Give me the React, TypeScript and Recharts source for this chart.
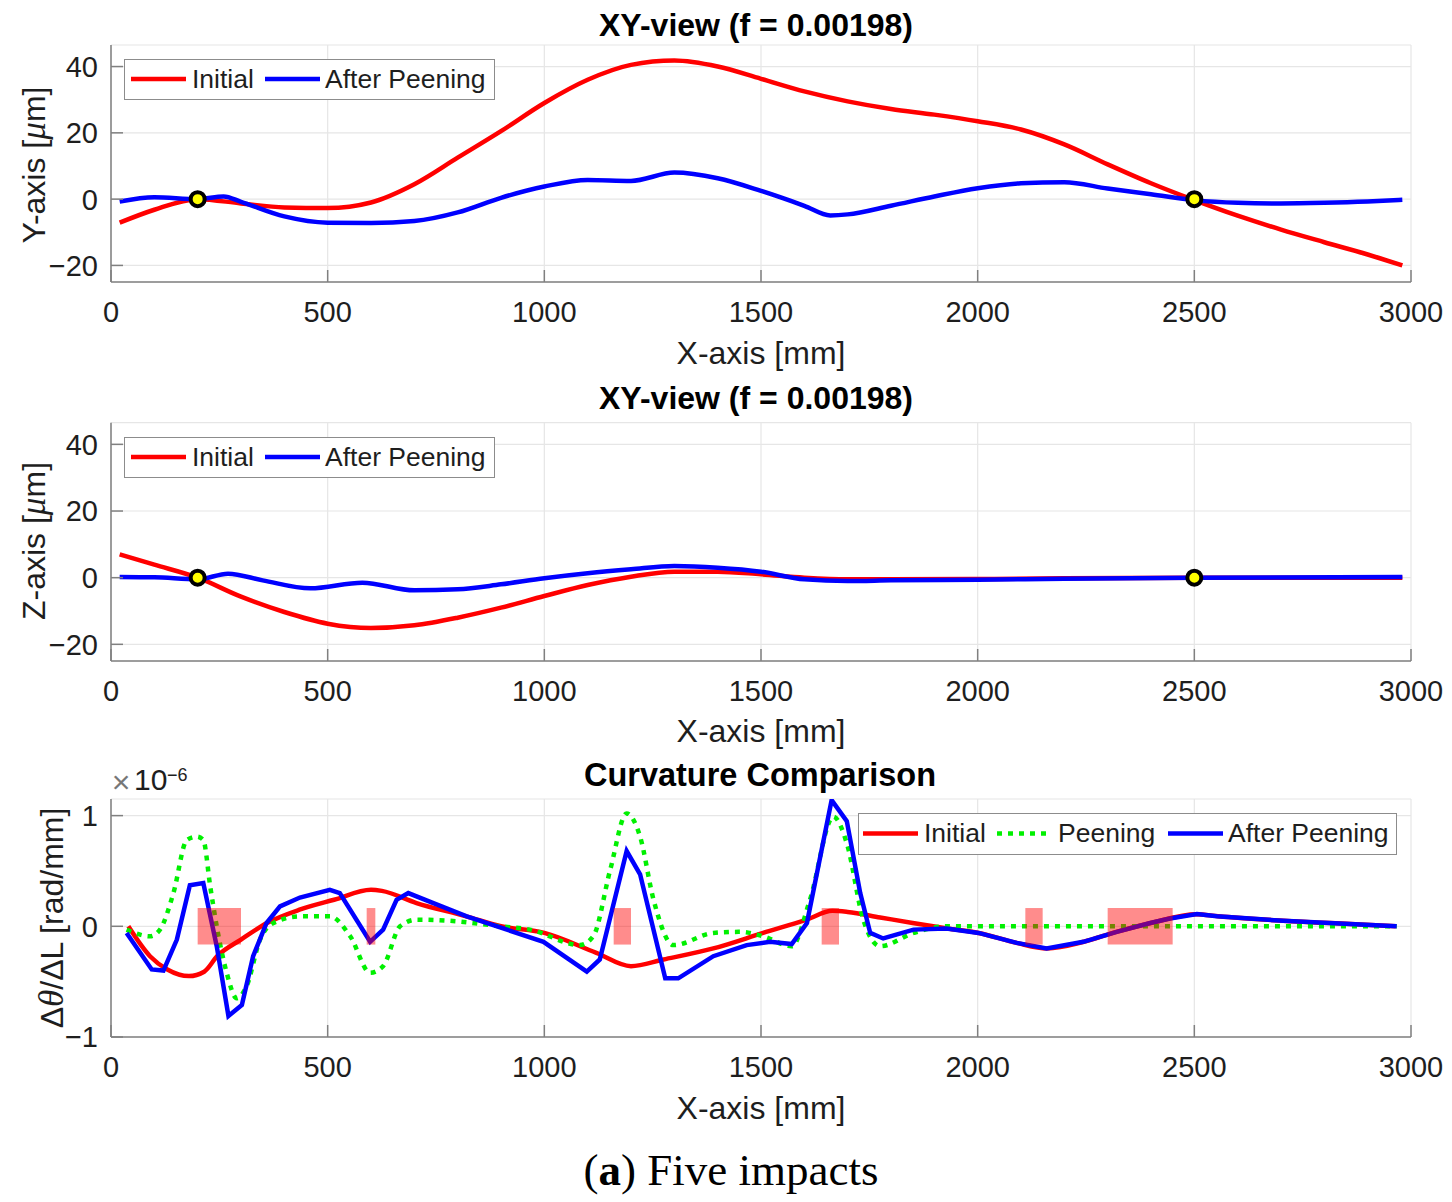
import React from 'react';
import { LineChart, Line, XAxis, YAxis, CartesianGrid, ReferenceArea } from 'recharts';

// ---- data ----
const xTicks = [0, 500, 1000, 1500, 2000, 2500, 3000];
const profileTicks = [-20, 0, 20, 40];
const curvTicks = [-1, 0, 1];
const profileSeries = ['Initial', 'After Peening'];
const curvSeries = ['Initial', 'Peening', 'After Peening'];

// fixed points (mm, um)
const anchorPoints = [
  [200, 0],
  [2500, 0],
];

// XY view [x mm, y um]
const xyInitial = [
  [20, -7.1], [100, -3.2], [200, 0], [300, -1.3], [400, -2.5], [500, -2.7], [600, -1.0],
  [700, 4.5], [800, 12.5], [900, 20.5], [1000, 29], [1100, 36], [1200, 40.5], [1300, 41.8],
  [1400, 40], [1500, 36.3], [1600, 32.5], [1700, 29.5], [1800, 27.2], [1900, 25.5],
  [2000, 23.5], [2100, 21], [2200, 16.5], [2300, 10.5], [2400, 4.8], [2500, -0.3],
  [2600, -5], [2700, -9.2], [2800, -13], [2900, -16.7], [2980, -20],
];
const xyAfter = [
  [20, -0.7], [100, 0.6], [200, 0], [260, 0.8], [300, -0.8], [400, -5.2], [500, -7.1],
  [600, -7.2], [700, -6.6], [800, -4.0], [900, 0.4], [1000, 3.8], [1100, 5.8], [1200, 5.5],
  [1300, 8], [1400, 6.3], [1500, 2.5], [1600, -2], [1660, -4.9], [1700, -4.6], [1800, -2],
  [1900, 0.8], [2000, 3.3], [2100, 4.8], [2200, 5.1], [2300, 3.2], [2400, 1.5], [2500, -0.3],
  [2600, -1.1], [2700, -1.3], [2800, -1.1], [2900, -0.7], [2980, -0.2],
];

// XZ view [x mm, z um]
const xzInitial = [
  [20, 7], [100, 3.9], [200, 0], [300, -5.7], [400, -10.3], [500, -13.8], [600, -15.1],
  [700, -14.3], [800, -12], [900, -9], [1000, -5.5], [1100, -2.2], [1200, 0.3], [1300, 1.8],
  [1400, 1.8], [1500, 1], [1600, 0], [1700, -0.5], [1800, -0.5], [2000, -0.4], [2200, -0.2],
  [2500, 0], [2980, 0],
];
const xzAfter = [
  [20, 0.2], [100, 0.1], [200, -0.5], [270, 1.2], [350, -0.8], [460, -3.2], [580, -1.5],
  [700, -3.8], [800, -3.5], [900, -2], [1000, -0.2], [1100, 1.3], [1200, 2.5], [1300, 3.5],
  [1400, 3], [1500, 1.8], [1600, -0.5], [1700, -1], [1800, -0.8], [2000, -0.6], [2200, -0.3],
  [2500, 0], [2980, 0.2],
];

// curvature [x mm, value x1e-6 rad/mm]
const curvInitial = [
  [40, 0], [90, -0.27], [130, -0.39], [180, -0.45], [215, -0.41], [245, -0.27], [300, -0.12],
  [360, 0.03], [435, 0.15], [515, 0.24], [600, 0.33], [625, 0.32], [705, 0.21], [820, 0.09],
  [900, 0], [1000, -0.06], [1120, -0.24], [1200, -0.36], [1275, -0.3], [1390, -0.2],
  [1505, -0.06], [1605, 0.06], [1665, 0.14], [1700, 0.13], [1775, 0.08], [1850, 0.03],
  [1930, -0.02], [2002, -0.06], [2090, -0.15], [2160, -0.2], [2245, -0.14], [2320, -0.05],
  [2400, 0.03], [2505, 0.11], [2555, 0.09], [2705, 0.05], [2860, 0.02], [2965, 0],
];
const curvPeening = [
  [36, -0.03], [90, -0.09], [113, -0.03], [144, 0.3], [175, 0.78], [198, 0.81], [213, 0.78],
  [229, 0.36], [244, 0], [267, -0.42], [290, -0.65], [313, -0.54], [344, -0.12], [375, 0.03],
  [436, 0.09], [505, 0.09], [552, -0.09], [598, -0.42], [628, -0.36], [667, 0], [705, 0.06],
  [782, 0.05], [898, 0], [967, -0.03], [1082, -0.17], [1113, -0.09], [1152, 0.51],
  [1190, 1.02], [1221, 0.81], [1252, 0.24], [1298, -0.17], [1390, -0.06], [1452, -0.05],
  [1505, -0.09], [1571, -0.18], [1613, 0.24], [1667, 0.99], [1698, 0.75], [1736, 0.06],
  [1775, -0.18], [1852, -0.06], [1928, 0], [2967, 0],
];
const curvAfter = [
  [36, -0.06], [94, -0.39], [121, -0.4], [152, -0.12], [182, 0.37], [213, 0.39], [244, -0.18],
  [271, -0.81], [302, -0.71], [328, -0.27], [359, 0.03], [390, 0.18], [436, 0.26], [505, 0.33],
  [528, 0.3], [598, -0.14], [628, -0.03], [659, 0.24], [686, 0.3], [744, 0.21], [821, 0.09],
  [898, -0.01], [998, -0.14], [1098, -0.41], [1128, -0.3], [1190, 0.68], [1221, 0.47],
  [1279, -0.47], [1309, -0.47], [1390, -0.27], [1467, -0.17], [1521, -0.14], [1571, -0.16],
  [1606, 0.03], [1663, 1.14], [1698, 0.95], [1729, 0.3], [1752, -0.06], [1782, -0.11],
  [1852, -0.03], [1928, -0.02], [2002, -0.06], [2090, -0.15], [2159, -0.2], [2244, -0.14],
  [2321, -0.05], [2398, 0.03], [2444, 0.07], [2506, 0.11], [2552, 0.09], [2705, 0.05],
  [2859, 0.02], [2967, 0],
];

// impact zones [x start, x end] and their half height
const impactZones = [
  [200, 300], [590, 610], [1160, 1200], [1640, 1680], [2110, 2150], [2300, 2450],
];
const zoneHalfHeight = 0.165;

// ---- styling ----
const FONT = '"Liberation Sans", Arial, Helvetica, sans-serif';
const SERIF = '"Liberation Serif", "Times New Roman", serif';
const INK = '#1e1e1e';
const AXIS = '#808080';
const GRID = '#e6e6e6';
const RED = '#ff0000';
const BLUE = '#0000ff';
const GREEN = '#00f000';
const TICK_FONT = 29;

const toPts = (rows: number[][]) => rows.map(([x, y]) => ({ x, y }));
const fmt = (v: number) => (v < 0 ? '\u2212' + Math.abs(v) : String(v));

function BottomTick(props: any) {
  const { x, y, payload } = props;
  const axisY = y - 30;
  return (
    <g>
      <line x1={x} x2={x} y1={axisY} y2={axisY - 12} stroke={AXIS} strokeWidth={1.5} />
      <text x={x} y={y} dy="0.36em" textAnchor="middle" fontSize={TICK_FONT} fontFamily={FONT} fill={INK}>
        {fmt(payload.value)}
      </text>
    </g>
  );
}

function LeftTick(props: any) {
  const { x, y, payload } = props;
  const axisX = x + 13;
  return (
    <g>
      <line x1={axisX} x2={axisX + 12} y1={y} y2={y} stroke={AXIS} strokeWidth={1.5} />
      <text x={x} y={y} dy="0.36em" textAnchor="end" fontSize={TICK_FONT} fontFamily={FONT} fill={INK}>
        {fmt(payload.value)}
      </text>
    </g>
  );
}

function TopTick(props: any) {
  const { x, y } = props;
  return <line x1={x} x2={x} y1={y} y2={y + 12} stroke={AXIS} strokeWidth={1.5} />;
}

function RightTick(props: any) {
  const { x, y } = props;
  return <line x1={x} x2={x - 12} y1={y} y2={y} stroke={AXIS} strokeWidth={1.5} />;
}

function Txt({ x, y, size = 32, bold = false, rotate = false, style = {}, children }: any) {
  return (
    <div
      style={{
        position: 'absolute',
        left: x,
        top: y,
        transform: `translate(-50%, -50%)${rotate ? ' rotate(-90deg)' : ''}`,
        whiteSpace: 'nowrap',
        fontSize: size,
        fontWeight: bold ? 700 : 400,
        lineHeight: 1,
        color: bold ? '#000' : INK,
        ...style,
      }}
    >
      {children}
    </div>
  );
}

function LegendBox({ left, top, width, height, items }: any) {
  return (
    <div
      style={{
        position: 'absolute',
        left,
        top,
        width,
        height,
        boxSizing: 'border-box',
        border: '1.5px solid #8c8c8c',
        background: '#fff',
        fontSize: 26.5,
        color: INK,
      }}
    >
      {items.map((it: any) => (
        <React.Fragment key={it.name}>
          <svg style={{ position: 'absolute', left: it.lineX, top: 0 }} width={56} height={height - 3}>
            <line
              x1={0}
              x2={55}
              y1={(height - 3) / 2}
              y2={(height - 3) / 2}
              stroke={it.color}
              strokeWidth={4.5}
              strokeDasharray={it.dotted ? '5 6' : undefined}
            />
          </svg>
          <span style={{ position: 'absolute', left: it.textX, top: 0, lineHeight: `${height - 3}px` }}>{it.name}</span>
        </React.Fragment>
      ))}
    </div>
  );
}

const markerDot = { r: 7, fill: '#ffff00', stroke: '#000', strokeWidth: 4 };

function ProfileChart({ initial, after, marginTop, marginBottom }: any) {
  return (
    <LineChart width={1452} height={380} margin={{ top: marginTop, right: 41, bottom: marginBottom, left: 11 }}>
      <CartesianGrid stroke={GRID} strokeWidth={1.2} />
      <XAxis
        type="number"
        dataKey="x"
        domain={[0, 3000]}
        ticks={xTicks}
        interval={0}
        height={40}
        tickSize={0}
        tickMargin={30}
        tickLine={false}
        tick={(p: any) => <BottomTick {...p} />}
        axisLine={{ stroke: AXIS, strokeWidth: 1.5 }}
        allowDataOverflow
      />
      <YAxis
        type="number"
        domain={[-25, 46.5]}
        ticks={profileTicks}
        interval={0}
        width={100}
        tickSize={0}
        tickMargin={13}
        tickLine={false}
        tick={(p: any) => <LeftTick {...p} />}
        axisLine={{ stroke: AXIS, strokeWidth: 1.5 }}
        allowDataOverflow
      />
      <Line data={toPts(initial)} dataKey="y" name={profileSeries[0]} type="monotone" stroke={RED} strokeWidth={4.5} dot={false} isAnimationActive={false} />
      <Line data={toPts(after)} dataKey="y" name={profileSeries[1]} type="monotone" stroke={BLUE} strokeWidth={4.5} dot={false} isAnimationActive={false} />
      <Line data={toPts(anchorPoints)} dataKey="y" stroke="none" dot={markerDot} isAnimationActive={false} legendType="none" />
    </LineChart>
  );
}

function CurvatureChart() {
  return (
    <LineChart width={1452} height={340} margin={{ top: 39, right: 41, bottom: 23, left: 11 }}>
      <CartesianGrid stroke={GRID} strokeWidth={1.2} />
      <XAxis
        type="number"
        dataKey="x"
        domain={[0, 3000]}
        ticks={xTicks}
        interval={0}
        height={40}
        tickSize={0}
        tickMargin={30}
        tickLine={false}
        tick={(p: any) => <BottomTick {...p} />}
        axisLine={{ stroke: AXIS, strokeWidth: 1.5 }}
        allowDataOverflow
      />
      <XAxis
        xAxisId="top"
        orientation="top"
        type="number"
        dataKey="x"
        domain={[0, 3000]}
        ticks={xTicks}
        interval={0}
        height={0}
        tickSize={0}
        tickMargin={0}
        tickLine={false}
        tick={(p: any) => <TopTick {...p} />}
        axisLine={{ stroke: AXIS, strokeWidth: 1.5 }}
      />
      <YAxis
        type="number"
        domain={[-1, 1.15]}
        ticks={curvTicks}
        interval={0}
        width={100}
        tickSize={0}
        tickMargin={13}
        tickLine={false}
        tick={(p: any) => <LeftTick {...p} />}
        axisLine={{ stroke: AXIS, strokeWidth: 1.5 }}
        allowDataOverflow
      />
      <YAxis
        yAxisId="r"
        orientation="right"
        type="number"
        domain={[-1, 1.15]}
        ticks={curvTicks}
        interval={0}
        width={0}
        tickSize={0}
        tickMargin={0}
        tickLine={false}
        tick={(p: any) => <RightTick {...p} />}
        axisLine={{ stroke: AXIS, strokeWidth: 1.5 }}
      />
      <Line data={toPts(curvInitial)} dataKey="y" name={curvSeries[0]} type="monotone" stroke={RED} strokeWidth={4.5} dot={false} isAnimationActive={false} />
      <Line data={toPts(curvPeening)} dataKey="y" name={curvSeries[1]} type="monotone" stroke={GREEN} strokeWidth={4.5} strokeDasharray="5 6" dot={false} isAnimationActive={false} />
      <Line data={toPts(curvAfter)} dataKey="y" name={curvSeries[2]} type="linear" stroke={BLUE} strokeWidth={4.5} dot={false} isAnimationActive={false} />
      {impactZones.map(([x1, x2]) => (
        <ReferenceArea
          key={x1}
          x1={x1}
          x2={x2}
          y1={-zoneHalfHeight}
          y2={zoneHalfHeight}
          fill={RED}
          fillOpacity={0.45}
          stroke="none"
          zIndex={450}
          ifOverflow="visible"
        />
      ))}
    </LineChart>
  );
}

const mu = <i style={{ fontFamily: SERIF, fontSize: '1.1em' }}>μ</i>;
const theta = <i style={{ fontFamily: SERIF, fontSize: '1.1em' }}>θ</i>;

export default function App() {
  const profileLegend = [
    { name: profileSeries[0], color: RED, lineX: 6, textX: 67 },
    { name: profileSeries[1], color: BLUE, lineX: 140, textX: 200 },
  ];
  const curvLegend = [
    { name: curvSeries[0], color: RED, lineX: 4, textX: 65 },
    { name: curvSeries[1], color: GREEN, dotted: true, lineX: 138, textX: 199 },
    { name: curvSeries[2], color: BLUE, lineX: 309, textX: 369 },
  ];
  return (
    <div style={{ position: 'absolute', left: 0, top: 0, width: 1452, height: 1202, background: '#fff', fontFamily: FONT }}>
      <div style={{ position: 'absolute', left: 0, top: 0 }}>
        <ProfileChart initial={xyInitial} after={xyAfter} marginTop={45} marginBottom={58} />
      </div>
      <div style={{ position: 'absolute', left: 0, top: 380 }}>
        <ProfileChart initial={xzInitial} after={xzAfter} marginTop={42.7} marginBottom={59} />
      </div>
      <div style={{ position: 'absolute', left: 0, top: 760 }}>
        <CurvatureChart />
      </div>

      <LegendBox left={124} top={59} width={371} height={41} items={profileLegend} />
      <LegendBox left={124} top={437} width={371} height={41} items={profileLegend} />
      <LegendBox left={858} top={813} width={539} height={42} items={curvLegend} />

      <Txt x={756} y={25} size={32} bold>XY-view (f = 0.00198)</Txt>
      <Txt x={756} y={398} size={32} bold>XY-view (f = 0.00198)</Txt>
      <Txt x={760} y={775} size={32.5} bold>Curvature Comparison</Txt>

      <Txt x={761} y={353} size={32}>X-axis [mm]</Txt>
      <Txt x={761} y={731} size={32}>X-axis [mm]</Txt>
      <Txt x={761} y={1108} size={32}>X-axis [mm]</Txt>

      <Txt x={34} y={165} size={32} rotate>Y-axis [{mu}m]</Txt>
      <Txt x={34} y={541} size={32} rotate>Z-axis [{mu}m]</Txt>
      <Txt x={52} y={918} size={32} rotate>Δ{theta}/ΔL [rad/mm]</Txt>

      <svg style={{ position: 'absolute', left: 0, top: 0, pointerEvents: 'none' }} width={1452} height={1202}>
        <text x={121} y={793} textAnchor="middle" fontSize={32} fontFamily={FONT} fill="#777">×</text>
        <text x={134} y={790} fontSize={30} fontFamily={FONT} fill={INK}>10</text>
        <text x={167} y={781} fontSize={18} fontFamily={FONT} fill={INK}>−6</text>
      </svg>

      <Txt x={731} y={1170} size={45} style={{ fontFamily: SERIF, color: '#000' }}>
        (<b>a</b>) Five impacts
      </Txt>
    </div>
  );
}
